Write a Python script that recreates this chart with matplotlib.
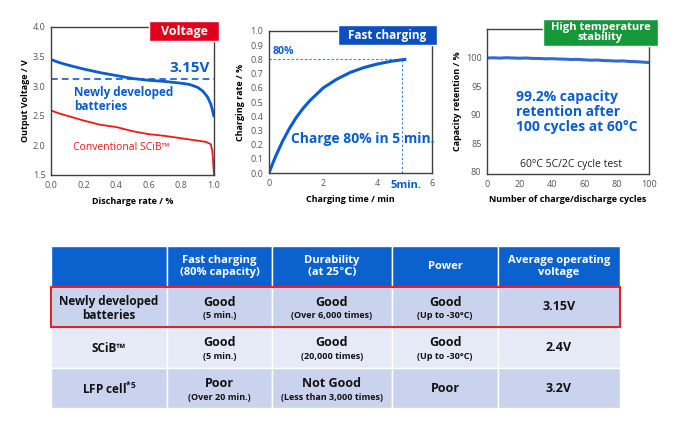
import matplotlib
matplotlib.use("Agg")
import matplotlib.pyplot as plt
from matplotlib.patches import Rectangle

plt.rcParams['font.family'] = ['Open Sans', 'DejaVu Sans']
plt.rcParams['mathtext.fontset'] = 'custom'
plt.rcParams['mathtext.rm'] = 'Open Sans:bold'
plt.rcParams['mathtext.bf'] = 'Open Sans:bold'
plt.rcParams['mathtext.it'] = 'Open Sans:bold'

# ---------------- data ----------------
# Chart 1: voltage vs discharge rate
new_x = [0.0, 0.05, 0.1, 0.2, 0.3, 0.4, 0.5, 0.6, 0.7, 0.8, 0.85, 0.9, 0.93, 0.96, 0.98, 0.99, 1.0]
new_v = [3.45, 3.40, 3.36, 3.29, 3.23, 3.18, 3.13, 3.10, 3.08, 3.05, 3.03, 2.98, 2.92, 2.82, 2.70, 2.60, 2.48]
conv_x = [0.0, 0.05, 0.1, 0.2, 0.3, 0.4, 0.5, 0.6, 0.7, 0.8, 0.9, 0.95, 0.98, 0.99, 0.995, 1.0]
conv_v = [2.59, 2.54, 2.50, 2.42, 2.35, 2.31, 2.24, 2.19, 2.16, 2.12, 2.08, 2.06, 2.02, 1.90, 1.70, 1.50]
avg_voltage = 3.13

# Chart 2: charging rate vs time
charge_t = [0, 0.1, 0.25, 0.5, 0.75, 1.0, 1.25, 1.5, 2.0, 2.5, 3.0, 3.5, 4.0, 4.5, 5.0]
charge_r = [0, 0.05, 0.12, 0.224, 0.313, 0.39, 0.454, 0.509, 0.60, 0.661, 0.709, 0.743, 0.768, 0.787, 0.80]

# Chart 3: capacity retention vs cycles
cycles = [0, 4, 8, 12, 16, 20, 24, 28, 32, 36, 40, 44, 48, 52, 56, 60, 64, 68, 72, 76, 80, 84, 88, 92, 96, 100]
retention = [100.0, 100.03, 99.98, 100.05, 100.0, 99.96, 100.0, 99.93, 99.92, 99.86, 99.88, 99.82,
             99.8, 99.74, 99.76, 99.68, 99.62, 99.64, 99.55, 99.52, 99.46, 99.49, 99.39, 99.35, 99.28, 99.2]

# Table
col_headers = ["", "Fast charging\n(80% capacity)", "Durability\n(at 25\u2103)", "Power", "Average operating\nvoltage"]
row_names = ["Newly developed\nbatteries", "SCiB\u2122", "LFP cell$^{*5}$"]
cell_main = [["Good", "Good", "Good", "3.15V"],
             ["Good", "Good", "Good", "2.4V"],
             ["Poor", "Not Good", "Poor", "3.2V"]]
cell_sub = [["(5 min.)", "(Over 6,000 times)", "(Up to -30\u00b0C)", ""],
            ["(5 min.)", "(20,000 times)", "(Up to -30\u00b0C)", ""],
            ["(Over 20 min.)", "(Less than 3,000 times)", "", ""]]

# ---------------- style ----------------
BLUE = "#0A5CD0"
RED = "#F01818"
TICK = "#555555"
SPINE = "#404040"

W, H = 680, 422
fig = plt.figure(figsize=(W / 100, H / 100), dpi=100)


def px_axes(l, t, r, b):
    return fig.add_axes([l / W, 1 - b / H, (r - l) / W, (b - t) / H])


def style(ax):
    for s in ax.spines.values():
        s.set_color(SPINE)
        s.set_linewidth(1.0)
    ax.tick_params(labelsize=6.5, colors=TICK, length=0, pad=4)
    for lab in ax.get_xticklabels() + ax.get_yticklabels():
        lab.set_color(TICK)


# ---- Chart 1 ----
ax1 = px_axes(51, 27, 214, 175)
ax1.plot(new_x, new_v, color=BLUE, lw=2.0, solid_capstyle='butt')
ax1.plot(conv_x, conv_v, color=RED, lw=1.3)
ax1.axhline(avg_voltage, color=BLUE, lw=1.2, ls=(0, (4, 2.5)))
ax1.set_xlim(0, 1.0)
ax1.set_ylim(1.5, 4.0)
ax1.set_xticks([0, 0.2, 0.4, 0.6, 0.8, 1.0])
ax1.set_xticklabels(["0.0", "0.2", "0.4", "0.6", "0.8", "1.0"])
ax1.set_yticks([1.5, 2.0, 2.5, 3.0, 3.5, 4.0])
style(ax1)
ax1.set_xlabel("Discharge rate / %", fontsize=6.5, fontweight='bold', labelpad=5)
ax1.set_ylabel("Output Voltage / V", fontsize=6.5, fontweight='bold', labelpad=2)
ax1.text(0.975, 3.30, "3.15V", color=BLUE, fontsize=11, fontweight='bold', ha='right', va='center')
ax1.text(0.14, 2.78, "Newly developed\nbatteries", color=BLUE, fontsize=8.5, fontweight='bold',
         ha='left', va='center', linespacing=1.1)
ax1.text(0.135, 1.97, "Conventional SCiB\u2122", color=RED, fontsize=7.5, ha='left', va='center')

# ---- Chart 2 ----
ax2 = px_axes(269, 31, 432, 173)
ax2.plot(charge_t, charge_r, color=BLUE, lw=2.2)
ax2.plot([0, charge_t[-1]], [charge_r[-1], charge_r[-1]], color=BLUE, lw=0.8, ls=(0, (2, 2)), alpha=0.8)
ax2.plot([4.9, 4.9], [0, charge_r[-1]], color=BLUE, lw=0.8, ls=(0, (2, 2)), alpha=0.8)
ax2.set_xlim(0, 6)
ax2.set_ylim(0, 1.0)
ax2.set_xticks([0, 2, 4, 6])
ax2.set_yticks([i / 10 for i in range(11)])
ax2.set_yticklabels([f"{i / 10:.1f}" for i in range(11)])
style(ax2)
ax2.set_xlabel("Charging time / min", fontsize=6.5, fontweight='bold', labelpad=5)
ax2.set_ylabel("Charging rate / %", fontsize=6.5, fontweight='bold', labelpad=4)
ax2.text(0.12, 0.815, "80%", color=BLUE, fontsize=7.5, fontweight='bold', ha='left', va='bottom')
ax2.text(0.8, 0.24, "Charge 80% in 5 min.", color=BLUE, fontsize=10, fontweight='bold',
         ha='left', va='center', clip_on=False)
ax2.text(5.03, -0.05, "5min.", color=BLUE, fontsize=8, fontweight='bold', ha='center', va='top')

# ---- Chart 3 ----
ax3 = px_axes(487, 29, 649, 174)
ax3.plot(cycles, retention, color="#3569D0", lw=2.2)
ax3.set_xlim(0, 100)
ax3.set_ylim(79.6, 105.1)
ax3.set_xticks(range(0, 101, 20))
ax3.set_yticks([80, 85, 90, 95, 100])
style(ax3)
ax3.set_xlabel("Number of charge/discharge cycles", fontsize=6.5, fontweight='bold', labelpad=5)
ax3.set_ylabel("Capacity retention / %", fontsize=6.5, fontweight='bold', labelpad=3)
ax3.text(18, 90.5, "99.2% capacity\nretention after\n100 cycles at 60\u00b0C", color=BLUE,
         fontsize=10, fontweight='bold', ha='left', va='center', linespacing=1.05)
ax3.text(52, 81.3, "60\u00b0C 5C/2C cycle test", color="#222222", fontsize=7.5, ha='center', va='center')

# ---- overlay for label boxes and table ----
ov = fig.add_axes([0, 0, 1, 1])
ov.set_xlim(0, W)
ov.set_ylim(H, 0)
ov.axis('off')


def label_box(l, t, r, b, color, text, fs, ls=0.9):
    ov.add_patch(Rectangle((l, t), r - l, b - t, facecolor=color, edgecolor='white', lw=1.0, zorder=3))
    ov.text((l + r) / 2, (t + b) / 2, text, color='white', fontsize=fs, fontweight='bold',
            ha='center', va='center', linespacing=ls, zorder=4)


label_box(149, 21, 219, 41, "#E3001B", "Voltage", 9)
label_box(338, 25, 437, 45, "#0A50C0", "Fast charging", 8.5)
label_box(543, 19, 658, 46, "#16983A", "High temperature\nstability", 8, 0.95)

# table geometry
col_edges = [51, 167, 272, 392, 498, 620]
row_edges = [246, 287, 327, 368, 408]
row_colors = ["#CAD3EE", "#E6EAF7", "#CAD3EE"]
HEADER = "#0B62CF"

for j in range(5):
    l, r = col_edges[j], col_edges[j + 1]
    ov.add_patch(Rectangle((l, row_edges[0]), r - l, row_edges[1] - row_edges[0],
                           facecolor=HEADER, edgecolor='white', lw=1.0))
    if col_headers[j]:
        ov.text((l + r) / 2, (row_edges[0] + row_edges[1]) / 2, col_headers[j], color='white',
                fontsize=8, fontweight='bold', ha='center', va='center', linespacing=1.15)

for i in range(3):
    t, b = row_edges[i + 1], row_edges[i + 2]
    for j in range(5):
        l, r = col_edges[j], col_edges[j + 1]
        ov.add_patch(Rectangle((l, t), r - l, b - t, facecolor=row_colors[i], edgecolor='white', lw=1.0))
        cx = (l + r) / 2
        if j == 0:
            ov.text(cx, (t + b) / 2 + 1.5, row_names[i], color='#111111', fontsize=8.5, fontweight='bold',
                    ha='center', va='center', linespacing=1.1)
        else:
            main = cell_main[i][j - 1]
            sub = cell_sub[i][j - 1]
            if sub:
                ov.text(cx, (t + b) / 2 - 4.5, main, color='#111111', fontsize=9, fontweight='bold',
                        ha='center', va='center')
                ov.text(cx, (t + b) / 2 + 9, sub, color='#111111', fontsize=6.5, fontweight='bold',
                        ha='center', va='center')
            else:
                ov.text(cx, (t + b) / 2, main, color='#111111', fontsize=9, fontweight='bold',
                        ha='center', va='center')

ov.add_patch(Rectangle((col_edges[0], row_edges[1]), col_edges[-1] - col_edges[0],
                       row_edges[2] - row_edges[1], facecolor='none', edgecolor='#E8202A', lw=1.5, zorder=5))

fig.savefig("out.png", dpi=100, facecolor='white')
